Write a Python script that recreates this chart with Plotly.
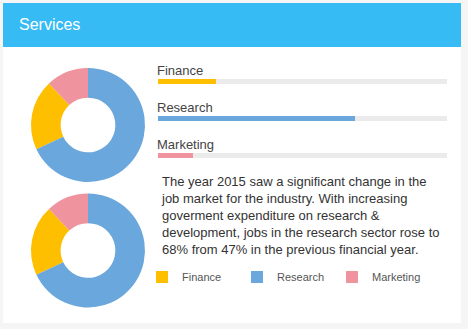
import plotly.graph_objects as go

W, H = 468, 329

title = "Services"
categories = ["Finance", "Research", "Marketing"]
shares_top = [20, 68, 12]
shares_bottom = [20, 68, 12]
bar_values = [20, 68, 12]
bar_max = 100
colors = ["#fdbf00", "#6aa7dc", "#ef939e"]
paragraph = ("The year 2015 saw a significant change in the<br>"
             "job market for the industry. With increasing<br>"
             "goverment expenditure on research &amp;<br>"
             "development, jobs in the research sector rose to<br>"
             "68% from 47% in the previous financial year.")

FONT = "Helvetica Neue, Helvetica, Arial, Liberation Sans, sans-serif"

def px(x0, x1):
    return [x0 / W, x1 / W]

def py(top, bottom):
    return [1 - bottom / H, 1 - top / H]

def rotation_for(vals):
    # Research slice starts at 12 o'clock going clockwise
    return 360 * vals[1] / sum(vals) - 360

fig = go.Figure()

fig.add_trace(go.Pie(labels=categories, values=shares_top, hole=0.48, sort=False,
                     direction="counterclockwise", rotation=rotation_for(shares_top),
                     marker=dict(colors=colors, line=dict(width=0)),
                     textinfo="none", hoverinfo="skip",
                     domain=dict(x=px(31, 145), y=py(68, 182)), showlegend=True))
fig.add_trace(go.Pie(labels=categories, values=shares_bottom, hole=0.48, sort=False,
                     direction="counterclockwise", rotation=rotation_for(shares_bottom),
                     marker=dict(colors=colors, line=dict(width=0)),
                     textinfo="none", hoverinfo="skip",
                     domain=dict(x=px(31, 145), y=py(193.5, 307.5)), showlegend=False))

# track bars
fig.add_trace(go.Bar(x=[bar_max] * len(categories), y=categories, orientation="h",
                     marker=dict(color="#ebebeb", line=dict(width=0)), width=0.11,
                     hoverinfo="skip", showlegend=False))
fig.add_trace(go.Bar(x=bar_values, y=categories, orientation="h",
                     marker=dict(color=colors, line=dict(width=0)), width=0.11,
                     hoverinfo="skip", showlegend=False))

for c in categories:
    fig.add_annotation(x=0, y=c, xref="x", yref="y", text=c, showarrow=False,
                       xanchor="left", yanchor="middle", yshift=11, xshift=-3,
                       font=dict(family=FONT, size=13, color="#444444"))

fig.add_annotation(x=159 / W, y=1 - 215 / H, xref="paper", yref="paper",
                   text=paragraph, showarrow=False, align="left",
                   xanchor="left", yanchor="middle",
                   font=dict(family=FONT, size=13, color="#333333"))

fig.add_annotation(x=17 / W, y=1 - 25 / H, xref="paper", yref="paper",
                   text=title, showarrow=False, xanchor="left", yanchor="middle",
                   font=dict(family=FONT, size=16, color="#ffffff"))

shapes = [
    dict(type="rect", xref="paper", yref="paper", x0=3 / W, x1=461 / W,
         y0=1 - 323 / H, y1=1 - 3 / H, fillcolor="#ffffff", line=dict(width=0), layer="below"),
    dict(type="rect", xref="paper", yref="paper", x0=3 / W, x1=461 / W,
         y0=1 - 47 / H, y1=1 - 3 / H, fillcolor="#36bbf5", line=dict(width=0), layer="below"),
]

fig.update_layout(
    width=W, height=H, margin=dict(l=0, r=0, t=0, b=0),
    paper_bgcolor="#f5f5f5", plot_bgcolor="rgba(0,0,0,0)",
    shapes=shapes, barmode="overlay", bargap=0,
    xaxis=dict(domain=px(158, 447), range=[0, bar_max], visible=False, fixedrange=True),
    yaxis=dict(domain=py(62.5, 173.5), range=[2.5, -0.5], visible=False,
               categoryorder="array", categoryarray=categories, fixedrange=True),
    legend=dict(orientation="h", x=(156 - 14) / W, xanchor="left",
                y=1 - 277 / H, yanchor="middle",
                entrywidth=50, entrywidthmode="pixels",
                font=dict(family=FONT, size=11, color="#555555"),
                bgcolor="rgba(0,0,0,0)", borderwidth=0, traceorder="normal"),
    font=dict(family=FONT),
)

fig.write_html("out.html")
